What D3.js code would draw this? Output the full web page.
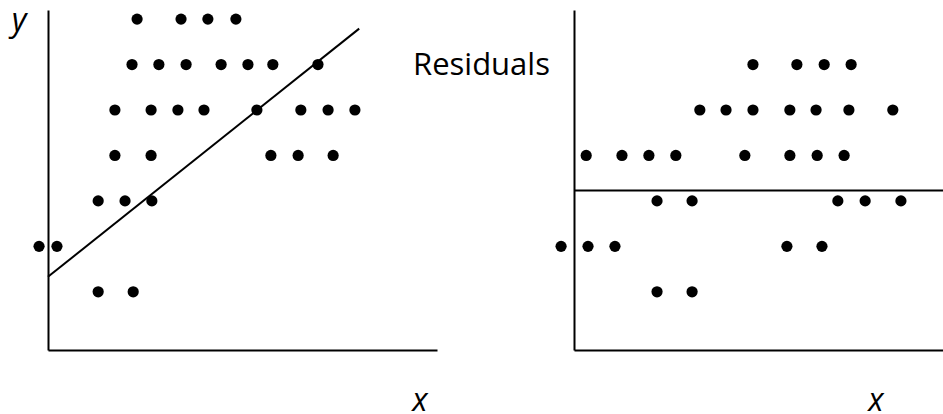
<!DOCTYPE html>
<html>
<head>
<meta charset="utf-8">
<script src="https://cdn.jsdelivr.net/npm/d3@7"></script>
<style>
  body { margin: 0; background: #fff; }
  svg { display: block; }
  text { font-family: "Open Sans", "Noto Sans", sans-serif; fill: #000; }
</style>
</head>
<body>
<svg id="chart"></svg>
<script>
const W = 943;
const H = 414;

// left panel: y (row level) against x (0-100)
const leftX = [
  22.9, 34.2, 41.1, 48.3,
  21.6, 28.5, 35.5, 44.5, 51.4, 57.8, 69.4,
  17.2, 26.5, 33.4, 40.1, 53.7, 65.0, 72.0, 78.9,
  17.2, 26.5, 57.3, 64.3, 73.3,
  12.9, 19.8, 26.7,
  -2.3, 2.3,
  12.9, 21.9,
];
const leftY = [
  7, 7, 7, 7,
  6, 6, 6, 6, 6, 6, 6,
  5, 5, 5, 5, 5, 5, 5, 5,
  4, 4, 4, 4, 4,
  3, 3, 3,
  2, 2,
  1, 1,
];
// fitted line end points
const fitX = [0, 80];
const fitY = [1.33, 6.79];

// right panel: residuals against x
const resX = [
  48.5, 60.4, 67.8, 75.1,
  34.1, 41.2, 48.5, 58.5, 65.6, 74.5, 86.4,
  3.3, 13.0, 20.3, 27.6, 46.3, 58.5, 65.9, 73.2,
  22.5, 32.0, 71.5, 78.9, 88.6,
  -3.5, 3.8, 11.1, 57.7, 67.2,
  22.5, 32.0,
];
const resY = [
  6, 6, 6, 6,
  5, 5, 5, 5, 5, 5, 5,
  4, 4, 4, 4, 4, 4, 4, 4,
  3, 3, 3, 3, 3,
  2, 2, 2, 2, 2,
  1, 1,
];
const zeroLevel = 3.23;

const svg = d3.select("#chart").attr("width", W).attr("height", H);

const y = d3.scaleLinear().domain([-0.28, 7.2]).range([350, 10]);
const xL = d3.scaleLinear().domain([0, 100]).range([48, 437]);
const xR = d3.scaleLinear().domain([0, 100]).range([574, 943]);

function drawAxes(x) {
  const left = x.range()[0];
  svg.append("g")
    .attr("transform", `translate(0,${y.range()[0]})`)
    .call(d3.axisBottom(x).ticks(0).tickSizeOuter(0))
    .call(g => g.select(".domain").attr("stroke", "#000").attr("stroke-width", 2));
  svg.append("g")
    .attr("transform", `translate(${left},0)`)
    .call(d3.axisLeft(y).ticks(0).tickSizeOuter(0))
    .call(g => g.select(".domain").attr("stroke", "#000").attr("stroke-width", 2));
}

drawAxes(xL);
drawAxes(xR);

// fitted line
svg.append("line")
  .attr("x1", xL(fitX[0])).attr("y1", y(fitY[0]))
  .attr("x2", xL(fitX[1])).attr("y2", y(fitY[1]))
  .attr("stroke", "#000").attr("stroke-width", 2);

// zero line for residuals
svg.append("line")
  .attr("x1", xR.range()[0]).attr("x2", xR.range()[1])
  .attr("y1", y(zeroLevel)).attr("y2", y(zeroLevel))
  .attr("stroke", "#000").attr("stroke-width", 2);

// points
svg.append("g")
  .selectAll("circle")
  .data(leftX.map((v, i) => [v, leftY[i]]))
  .join("circle")
  .attr("cx", d => xL(d[0]))
  .attr("cy", d => y(d[1]))
  .attr("r", 5.6)
  .attr("fill", "#000");

svg.append("g")
  .selectAll("circle")
  .data(resX.map((v, i) => [v, resY[i]]))
  .join("circle")
  .attr("cx", d => xR(d[0]))
  .attr("cy", d => y(d[1]))
  .attr("r", 5.6)
  .attr("fill", "#000");

// labels
svg.append("text")
  .attr("x", 19).attr("y", 31)
  .attr("text-anchor", "middle")
  .style("font-size", "32px").style("font-style", "italic")
  .text("y");

svg.append("text")
  .attr("x", 420).attr("y", 411)
  .attr("text-anchor", "middle")
  .style("font-size", "32px").style("font-style", "italic")
  .text("x");

svg.append("text")
  .attr("x", 876).attr("y", 411)
  .attr("text-anchor", "middle")
  .style("font-size", "32px").style("font-style", "italic")
  .text("x");

svg.append("text")
  .attr("x", 413).attr("y", 75)
  .style("font-size", "31px")
  .text("Residuals");
</script>
</body>
</html>
